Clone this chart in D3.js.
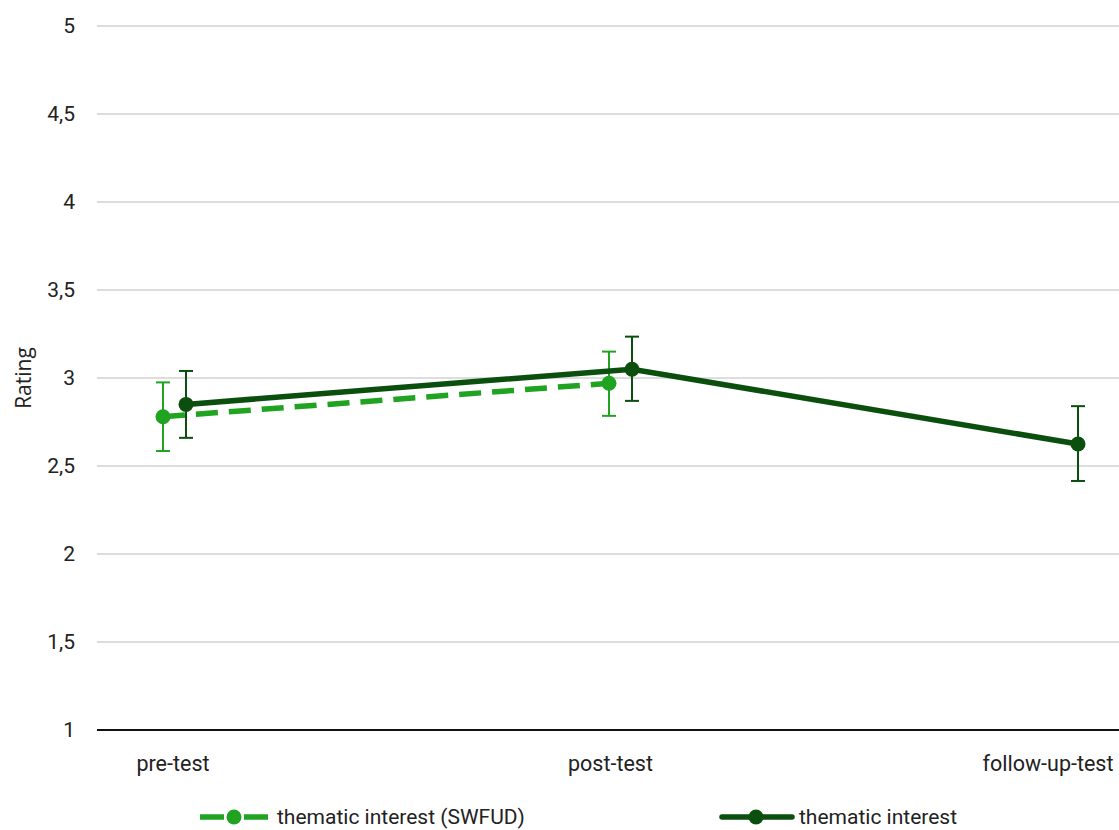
<!DOCTYPE html>
<html>
<head>
<meta charset="utf-8">
<script src="https://cdn.jsdelivr.net/npm/d3@7/dist/d3.min.js"></script>
<style>
  html, body { margin: 0; padding: 0; background: #fff; }
  svg { display: block; }
</style>
</head>
<body>
<svg id="chart" width="1119" height="830"></svg>
<script>
// Measurement points
const categories = ["pre-test", "post-test", "follow-up-test"];

// Thematic interest (SWFUD): mean and error bounds
const swfudMean  = [2.78, 2.97];
const swfudLower = [2.585, 2.785];
const swfudUpper = [2.975, 3.15];

// Thematic interest: mean and error bounds
const interestMean  = [2.85, 3.05, 2.625];
const interestLower = [2.66, 2.87, 2.415];
const interestUpper = [3.04, 3.235, 2.84];

const yTicks = [1, 1.5, 2, 2.5, 3, 3.5, 4, 4.5, 5];

const seriesNames = ["thematic interest (SWFUD)", "thematic interest"];

const colorLight = "#1fa321";
const colorDark = "#0b4f0e";

const svg = d3.select("#chart");

const plotLeft = 97, plotRight = 1119, plotTop = 26, plotBottom = 730;

const y = d3.scaleLinear().domain([1, 5]).range([plotBottom, plotTop]);
const x = d3.scalePoint().domain(categories).range([174.5, 1066.5]);
const xLabel = d3.scalePoint().domain(categories).range([173, 1048]);

const seriesOffset = 11.5;

// Gridlines
svg.append("g")
  .selectAll("line")
  .data(yTicks.filter(t => t !== 1))
  .join("line")
  .attr("x1", plotLeft).attr("x2", plotRight)
  .attr("y1", d => y(d)).attr("y2", d => y(d))
  .attr("stroke", "#d2d2d2").attr("stroke-width", 1.5);

// Y axis tick labels
const fmt = d => String(d).replace(".", ",");
svg.append("g")
  .selectAll("text")
  .data(yTicks)
  .join("text")
  .attr("x", 75)
  .attr("y", d => y(d))
  .attr("dy", "0.35em")
  .attr("text-anchor", "end")
  .attr("font-family", "Roboto, sans-serif")
  .attr("font-size", 21)
  .attr("fill", "#222")
  .text(fmt);

// Category axis line
svg.append("line")
  .attr("x1", plotLeft).attr("x2", plotRight)
  .attr("y1", y(1)).attr("y2", y(1))
  .attr("stroke", "#111").attr("stroke-width", 2);

// Category labels
svg.append("g")
  .selectAll("text")
  .data(categories)
  .join("text")
  .attr("x", d => xLabel(d))
  .attr("y", 763)
  .attr("dy", "0.35em")
  .attr("text-anchor", "middle")
  .attr("font-family", "Roboto, sans-serif")
  .attr("font-size", 21.5)
  .attr("fill", "#222")
  .text(d => d);

// Y axis title
svg.append("text")
  .attr("transform", `translate(31, ${y(3)}) rotate(-90)`)
  .attr("text-anchor", "middle")
  .attr("font-family", "'Open Sans', sans-serif")
  .attr("font-size", 21)
  .attr("fill", "#222")
  .text("Rating");

function drawSeries(mean, lower, upper, offset, color, dashed) {
  const pts = mean.map((m, i) => ({
    cx: x(categories[i]) + offset, m, lo: lower[i], hi: upper[i]
  }));
  const g = svg.append("g");

  g.append("path")
    .datum(pts)
    .attr("fill", "none")
    .attr("stroke", color)
    .attr("stroke-width", 5.5)
    .attr("stroke-dasharray", dashed ? "22,11" : null)
    .attr("d", d3.line().x(d => d.cx).y(d => y(d.m)));

  const cap = 7;
  const eb = g.append("g").attr("stroke", color).attr("stroke-width", 2);
  pts.forEach(p => {
    eb.append("line").attr("x1", p.cx).attr("x2", p.cx)
      .attr("y1", y(p.lo)).attr("y2", y(p.hi));
    eb.append("line").attr("x1", p.cx - cap).attr("x2", p.cx + cap)
      .attr("y1", y(p.lo)).attr("y2", y(p.lo));
    eb.append("line").attr("x1", p.cx - cap).attr("x2", p.cx + cap)
      .attr("y1", y(p.hi)).attr("y2", y(p.hi));
  });

  g.selectAll("circle")
    .data(pts)
    .join("circle")
    .attr("cx", d => d.cx)
    .attr("cy", d => y(d.m))
    .attr("r", 7.5)
    .attr("fill", color);
}

drawSeries(swfudMean, swfudLower, swfudUpper, -seriesOffset, colorLight, true);
drawSeries(interestMean, interestLower, interestUpper, seriesOffset, colorDark, false);

// Legend
const legendItems = [
  { name: seriesNames[0], color: colorLight, dashed: true, x0: 200 },
  { name: seriesNames[1], color: colorDark, dashed: false, x0: 722 }
];
const ly = 817;
legendItems.forEach(it => {
  const g = svg.append("g");
  if (it.dashed) {
    g.append("line").attr("x1", it.x0).attr("x2", it.x0 + 24)
      .attr("y1", ly).attr("y2", ly)
      .attr("stroke", it.color).attr("stroke-width", 5.5);
    g.append("line").attr("x1", it.x0 + 44).attr("x2", it.x0 + 68)
      .attr("y1", ly).attr("y2", ly)
      .attr("stroke", it.color).attr("stroke-width", 5.5);
  } else {
    g.append("line").attr("x1", it.x0).attr("x2", it.x0 + 70)
      .attr("y1", ly).attr("y2", ly)
      .attr("stroke", it.color).attr("stroke-width", 5.5).attr("stroke-linecap", "round");
  }
  g.append("circle").attr("cx", it.x0 + 34).attr("cy", ly).attr("r", 7.5).attr("fill", it.color);
  g.append("text")
    .attr("x", it.x0 + 77)
    .attr("y", ly)
    .attr("dy", "0.35em")
    .attr("font-family", "Roboto, sans-serif")
    .attr("font-size", 21)
    .attr("fill", "#222")
    .text(it.name);
});
</script>
</body>
</html>
